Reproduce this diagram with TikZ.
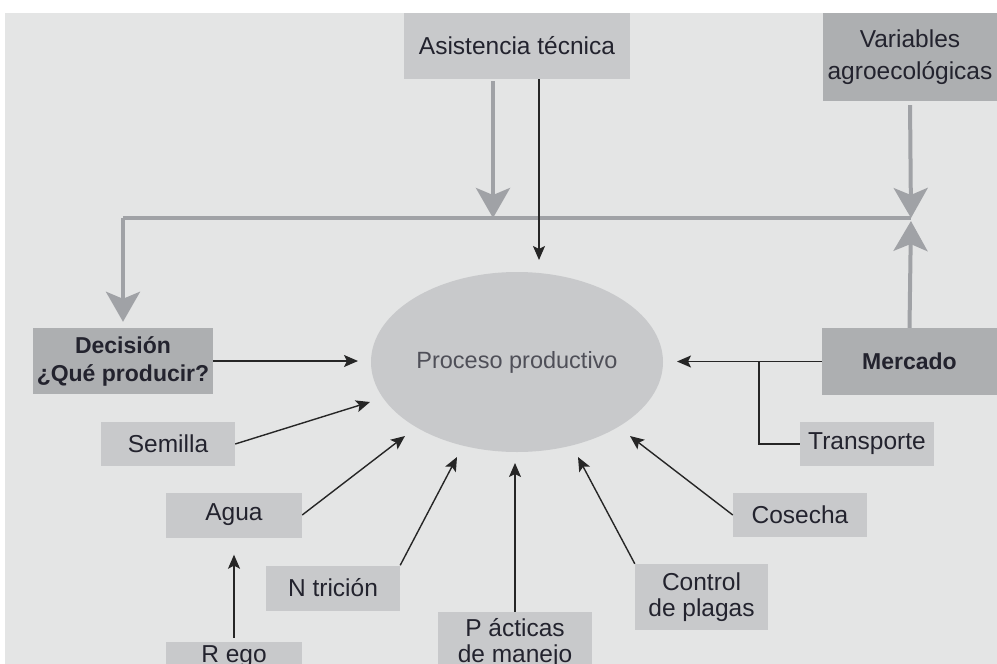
\documentclass[tikz,border=0pt]{standalone}
\usepackage{fontspec}
\setmainfont{Liberation Sans}
\usetikzlibrary{arrows.meta,shapes.geometric}
\definecolor{bgc}{HTML}{E4E5E5}
\definecolor{lbox}{HTML}{C8C9CB}
\definecolor{dbox}{HTML}{ADAFB1}
\definecolor{garr}{HTML}{A0A2A6}
\definecolor{txt}{HTML}{23232E}
\begin{document}
\begin{tikzpicture}[x=1pt,y=-1pt,
  lightbox/.style={fill=lbox, draw=none, inner sep=0pt, text=txt, align=center,
    font=\fontsize{24.5}{26}\selectfont},
  darkbox/.style={fill=dbox, draw=none, inner sep=0pt, text=txt, align=center,
    font=\fontsize{24.5}{28}\selectfont},
  boldbox/.style={darkbox, font=\fontsize{23}{28}\selectfont\bfseries},
  blk/.style={draw=black!85, line width=1.4pt, -{Stealth[length=14pt,width=12pt,inset=3pt]}},
  plainline/.style={draw=black!85, line width=1.4pt},
  gline/.style={draw=garr, line width=4pt},
  garrow/.style={gline, -{Stealth[length=30pt,width=34pt,inset=7pt]}}]
\useasboundingbox (0,0) rectangle (997,664);
\fill[white] (0,0) rectangle (997,664);
\fill[bgc] (5,13) rectangle (997,664);

% nodes
\node[lightbox, minimum width=226, minimum height=66] (asis) at (517,46) {Asistencia técnica};
\node[darkbox, minimum width=174, minimum height=88, font=\fontsize{24.5}{32}\selectfont] (vari) at (910,57) {Variables\\agroecológicas};
\node[boldbox, minimum width=180, minimum height=66] (deci) at (123,361) {Decisión\\¿Qué producir?};
\node[boldbox, minimum width=175, minimum height=67] (merc) at (909.5,361.5) {Mercado};
\node[ellipse, fill=lbox, draw=none, inner sep=0pt, minimum width=292, minimum height=180,
  text=txt!80, font=\fontsize{23.5}{26}\selectfont] (pp) at (517,362) {Proceso productivo};
\node[lightbox, minimum width=134, minimum height=44] (sem) at (168,444) {Semilla};
\node[lightbox, minimum width=134, minimum height=44] (trans) at (867,444) {Transporte};
\node[lightbox, minimum width=136, minimum height=45] (agua) at (234,515) {Agua};
\node[lightbox, minimum width=134, minimum height=44] (cos) at (800,515) {Cosecha};
\node[lightbox, minimum width=134, minimum height=45] (nut) at (333,588) {N trición};
\node[lightbox, minimum width=133, minimum height=66] (ctrl) at (701.5,597) {Control\\de plagas};
\node[lightbox, minimum width=154, minimum height=62] (prac) at (515,643) {P ácticas\\de manejo};
\node[lightbox, minimum width=136, minimum height=30] (riego) at (234,657) {R ego};

% free ends
\coordinate (tAsis) at (539,260);
\coordinate (tDec) at (358,361);
\coordinate (tMer) at (677,361.5);
\coordinate (jm) at (759,361.5);
\coordinate (tSem) at (370,402);
\coordinate (tAgua) at (405,436);
\coordinate (tNut) at (457,457);
\coordinate (tPrac) at (515,463);
\coordinate (tCtrl) at (578,457);
\coordinate (tCos) at (630,436);
\coordinate (j1) at (123,218);
\coordinate (j2) at (911,218);
\coordinate (ja) at (493,218);

% gray feedback lines
\draw[gline] (j1) -- (j2);
\draw[garrow, shorten >=6pt] (j1) -- (deci.north);
\draw[garrow, shorten <=2pt] ([xshift=-24pt]asis.south) -- (ja);
\draw[garrow, shorten <=4pt] (vari.south) -- (j2);
\draw[garrow, shorten >=3pt] (merc.north) -- (j2);

% black arrows
\draw[blk] ([xshift=22pt]asis.south) -- (tAsis);
\draw[blk] (deci.east) -- (tDec);
\draw[blk] (merc.west) -- (tMer);
\draw[plainline] (jm) |- (trans.west);
\draw[blk] (sem.east) -- (tSem);
\draw[blk] (agua.east) -- (tAgua);
\draw[blk, shorten >=17pt, shorten <=4pt] (riego.north) -- (agua.south);
\draw[blk] (nut.north east) -- (tNut);
\draw[blk] (prac.north) -- (tPrac);
\draw[blk] (ctrl.north west) -- (tCtrl);
\draw[blk] (cos.west) -- (tCos);
\end{tikzpicture}
\end{document}
